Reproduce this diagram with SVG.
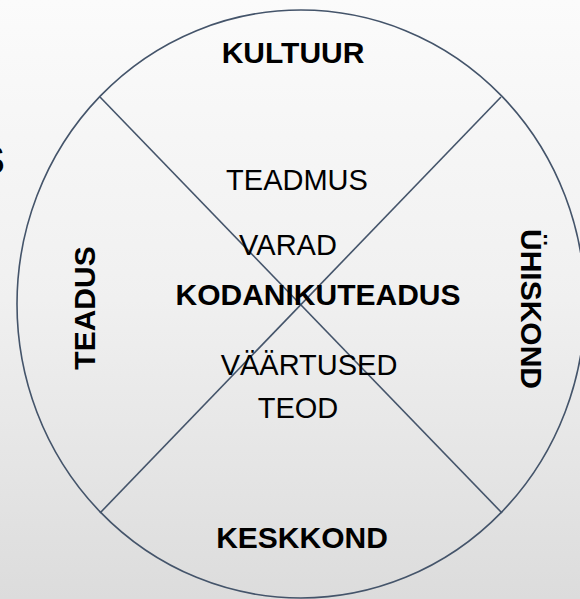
<svg xmlns="http://www.w3.org/2000/svg" width="580" height="599" viewBox="0 0 580 599">
<defs>
<linearGradient id="bg" x1="0" y1="0" x2="0" y2="1">
<stop offset="0" stop-color="#fbfbfb"/>
<stop offset="0.5" stop-color="#f0f0f0"/>
<stop offset="1" stop-color="#dcdcdc"/>
</linearGradient>
<style>
.b{font-family:"Liberation Sans",Arial,sans-serif;font-weight:bold;font-size:30px;fill:#000;text-anchor:middle}
.r{font-family:"Liberation Sans",Arial,sans-serif;font-size:29px;fill:#000;text-anchor:middle}
.ln{stroke:#44546a;stroke-width:1.6;fill:none}
</style>
</defs>
<rect width="580" height="599" fill="url(#bg)"/>
<text x="-22" y="174" style="font-family:'Liberation Sans',Arial,sans-serif;font-weight:bold;font-size:40px">S</text>
<g id="circle">
<ellipse cx="301" cy="304" rx="284" ry="294" fill="#e6e6e6" class="ln"/>
</g>
<g id="connectors">
<line x1="100" y1="97" x2="502" y2="513" class="ln"/>
<line x1="501" y1="97" x2="100" y2="513" class="ln"/>
</g>
<g id="kultuur"><text class="b" x="293" y="63">KULTUUR</text></g>
<g id="keskkond"><text class="b" x="302" y="548">KESKKOND</text></g>
<g id="teadus"><text class="b" transform="translate(95,308) rotate(-90)">TEADUS</text></g>
<g id="uhiskond"><text class="b" transform="translate(521,309) rotate(90)">ÜHISKOND</text></g>
<g id="center">
<text class="r" x="297" y="190">TEADMUS</text>
<text class="r" x="288" y="255">VARAD</text>
<text class="b" x="318" y="305">KODANIKUTEADUS</text>
<text class="r" x="309" y="375">VÄÄRTUSED</text>
<text class="r" x="298" y="418">TEOD</text>
</g>
</svg>
